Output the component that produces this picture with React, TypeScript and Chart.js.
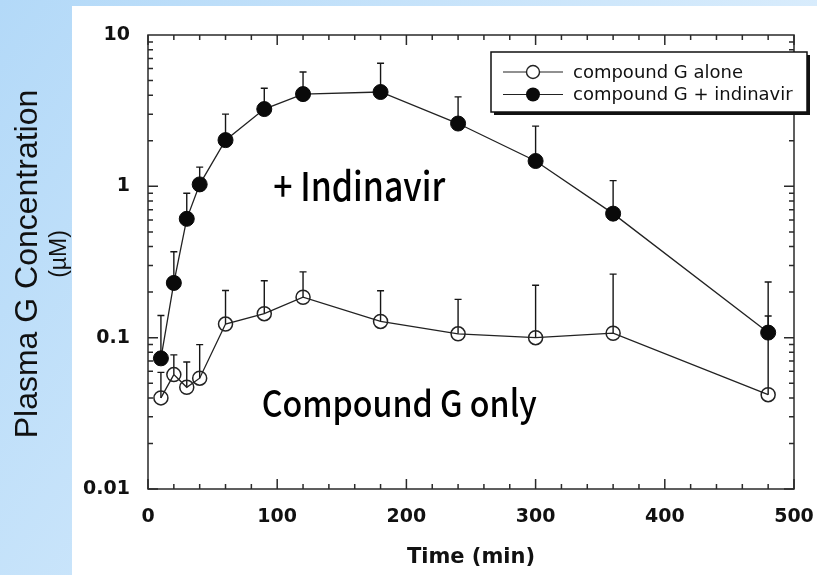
import { useEffect, useRef } from 'react';
import { Chart, registerables } from 'chart.js';

Chart.register(...registerables);

// ---- data ----
const times = [10, 20, 30, 40, 60, 90, 120, 180, 240, 300, 360, 480];
const aloneMean = [0.040, 0.057, 0.047, 0.054, 0.123, 0.144, 0.185, 0.128, 0.106, 0.100, 0.107, 0.042];
const aloneUpper = [0.059, 0.077, 0.069, 0.090, 0.205, 0.238, 0.272, 0.204, 0.179, 0.222, 0.263, 0.139];
const indinavirMean = [0.073, 0.23, 0.61, 1.03, 2.02, 3.24, 4.07, 4.2, 2.6, 1.47, 0.66, 0.108];
const indinavirUpper = [0.14, 0.37, 0.9, 1.34, 3.0, 4.45, 5.7, 6.5, 3.9, 2.5, 1.09, 0.233];
const seriesLabels = ['compound G alone', 'compound G + indinavir'];
const xTickLabels = ['0', '100', '200', '300', '400', '500'];
const yTickLabels = ['0.01', '0.1', '1', '10'];
const annotationTexts = ['+ Indinavir', 'Compound G only'];
const axisTitleX = 'Time (min)';
const axisTitleY = 'Plasma G Concentration';
const axisUnitY = '(µM)';

// ---- styling / placement ----
const W = 817;
const H = 575;
const INK = '#161616';
const upperByDataset = [aloneUpper, indinavirUpper];
const annotationStyle = [
  { x: 97, y: 0.8, size: 40, width: 172 },
  { x: 88, y: 0.0298, size: 37, width: 275 },
];

const backgroundPlugin = {
  id: 'slideBackground',
  beforeDraw(chart: any) {
    const { ctx } = chart;
    ctx.save();
    const g = ctx.createLinearGradient(0, 0, W, H);
    g.addColorStop(0, '#b3d9f8');
    g.addColorStop(1, '#eaf5fe');
    ctx.fillStyle = g;
    ctx.fillRect(0, 0, W, H);
    ctx.fillStyle = '#ffffff';
    ctx.fillRect(72, 6, W - 72, H - 6);
    // y-axis title on the slide strip
    ctx.fillStyle = '#111';
    ctx.translate(37, 264);
    ctx.rotate(-Math.PI / 2);
    ctx.textAlign = 'center';
    ctx.textBaseline = 'alphabetic';
    ctx.font = '32px "Liberation Sans", Arial, sans-serif';
    ctx.fillText(axisTitleY, 0, 0);
    ctx.font = '23px "Liberation Sans", Arial, sans-serif';
    ctx.fillText(axisUnitY, 10, 29);
    ctx.restore();
  },
};

const errorBarPlugin = {
  id: 'errorBars',
  beforeDatasetsDraw(chart: any) {
    const { ctx } = chart;
    const xs = chart.scales.x;
    const ys = chart.scales.y;
    ctx.save();
    ctx.strokeStyle = INK;
    ctx.lineWidth = 1.4;
    chart.data.datasets.forEach((ds: any, i: number) => {
      const up = upperByDataset[i];
      ds.data.forEach((p: any, j: number) => {
        const px = xs.getPixelForValue(p.x);
        const y0 = ys.getPixelForValue(p.y);
        const y1 = ys.getPixelForValue(up[j]);
        ctx.beginPath();
        ctx.moveTo(px, y0);
        ctx.lineTo(px, y1);
        ctx.moveTo(px - 3.5, y1);
        ctx.lineTo(px + 3.5, y1);
        ctx.stroke();
      });
    });
    ctx.restore();
  },
};

const framePlugin = {
  id: 'frameTicks',
  afterDatasetsDraw(chart: any) {
    const { ctx, chartArea: a } = chart;
    const xs = chart.scales.x;
    const ys = chart.scales.y;
    ctx.save();
    ctx.strokeStyle = '#2a2a2a';
    ctx.lineWidth = 1.5;
    ctx.strokeRect(a.left, a.top, a.right - a.left, a.bottom - a.top);
    ctx.beginPath();
    for (let v = 0; v <= 500; v += 20) {
      const px = xs.getPixelForValue(v);
      const len = v % 100 === 0 ? 10 : 5;
      ctx.moveTo(px, a.bottom);
      ctx.lineTo(px, a.bottom - len);
      ctx.moveTo(px, a.top);
      ctx.lineTo(px, a.top + len);
    }
    for (let d = -2; d <= 0; d++) {
      for (let k = 1; k <= 9; k++) {
        const v = k * Math.pow(10, d);
        const py = ys.getPixelForValue(v);
        const len = k === 1 ? 10 : 5;
        ctx.moveTo(a.left, py);
        ctx.lineTo(a.left + len, py);
        ctx.moveTo(a.right, py);
        ctx.lineTo(a.right - len, py);
      }
    }
    ctx.stroke();
    ctx.restore();
  },
};

const annotationPlugin = {
  id: 'annotations',
  afterDatasetsDraw(chart: any) {
    const { ctx } = chart;
    const xs = chart.scales.x;
    const ys = chart.scales.y;
    ctx.save();
    ctx.fillStyle = '#000';
    ctx.textAlign = 'left';
    ctx.textBaseline = 'alphabetic';
    annotationTexts.forEach((t, i) => {
      const s = annotationStyle[i];
      ctx.font = `500 ${s.size}px "Noto Sans CJK JP", "Noto Sans", sans-serif`;
      const m = ctx.measureText(t).width;
      ctx.save();
      ctx.translate(xs.getPixelForValue(s.x), ys.getPixelForValue(s.y));
      ctx.scale(s.width / m, 1);
      ctx.fillText(t, 0, 0);
      ctx.restore();
    });
    ctx.restore();
  },
};

const legendPlugin = {
  id: 'boxLegend',
  afterDraw(chart: any) {
    const { ctx } = chart;
    const bx = 491, by = 52, bw = 316, bh = 60;
    ctx.save();
    ctx.fillStyle = '#111';
    ctx.fillRect(bx + 3, by + 3, bw, bh);
    ctx.fillStyle = '#fff';
    ctx.fillRect(bx, by, bw, bh);
    ctx.strokeStyle = '#111';
    ctx.lineWidth = 1.5;
    ctx.strokeRect(bx, by, bw, bh);
    ctx.font = '18px "DejaVu Sans", sans-serif';
    ctx.textBaseline = 'middle';
    ctx.textAlign = 'left';
    chart.data.datasets.forEach((ds: any, i: number) => {
      const cy = by + 20 + i * 22.5;
      ctx.strokeStyle = ds.borderColor;
      ctx.lineWidth = 1.2;
      ctx.beginPath();
      ctx.moveTo(bx + 12, cy);
      ctx.lineTo(bx + 72, cy);
      ctx.stroke();
      ctx.beginPath();
      ctx.arc(bx + 42, cy, i === 0 ? 6.5 : 7, 0, Math.PI * 2);
      if (i === 1) {
        ctx.fillStyle = ds.pointBackgroundColor;
        ctx.fill();
      } else {
        ctx.fillStyle = '#fff';
        ctx.fill();
        ctx.lineWidth = 1.4;
        ctx.stroke();
      }
      ctx.fillStyle = '#111';
      ctx.fillText(ds.label, bx + 82, cy + 1);
    });
    ctx.restore();
  },
};

export default function App() {
  const ref = useRef<HTMLCanvasElement | null>(null);
  useEffect(() => {
    document.body.style.margin = '0';
    const canvas = ref.current;
    if (!canvas) return;
    const tickFont = { family: '"DejaVu Sans", sans-serif', weight: 'bold' as const, size: 19 };
    const chart = new Chart(canvas, {
      type: 'line',
      data: {
        datasets: [
          {
            label: seriesLabels[0],
            data: times.map((t, i) => ({ x: t, y: aloneMean[i] })),
            borderColor: '#222',
            borderWidth: 1.3,
            pointRadius: 7,
            pointBorderWidth: 1.5,
            pointBackgroundColor: 'rgba(255,255,255,0)',
            pointBorderColor: '#222',
            fill: false,
            tension: 0,
          },
          {
            label: seriesLabels[1],
            data: times.map((t, i) => ({ x: t, y: indinavirMean[i] })),
            borderColor: '#222',
            borderWidth: 1.3,
            pointRadius: 7.5,
            pointBorderWidth: 1,
            pointBackgroundColor: '#0a0a0a',
            pointBorderColor: '#0a0a0a',
            fill: false,
            tension: 0,
          },
        ],
      },
      options: {
        responsive: false,
        animation: false,
        layout: { padding: { top: 35, right: 23, left: 0, bottom: 0 } },
        plugins: { legend: { display: false }, tooltip: { enabled: false } },
        scales: {
          x: {
            type: 'linear',
            min: 0,
            max: 500,
            ticks: {
              stepSize: 100,
              autoSkip: false,
              maxRotation: 0,
              padding: 17,
              color: '#111',
              font: tickFont,
              callback: (v: any) => xTickLabels[Math.round(Number(v) / 100)] ?? '',
            },
            grid: { display: false, drawTicks: false },
            border: { display: false },
            title: {
              display: true,
              text: axisTitleX,
              color: '#111',
              font: { family: '"DejaVu Sans", sans-serif', weight: 'bold', size: 21 },
              padding: { top: 0, bottom: 5 },
            },
            afterFit: (s: any) => {
              s.height = 86;
              s.paddingLeft = 0;
              s.paddingRight = 0;
            },
          },
          y: {
            type: 'logarithmic',
            min: 0.01,
            max: 10,
            ticks: {
              autoSkip: false,
              padding: 18,
              color: '#111',
              font: tickFont,
              callback: (v: any) => {
                const l = Math.log10(Number(v));
                const r = Math.round(l);
                return Math.abs(l - r) < 1e-6 ? yTickLabels[r + 2] ?? '' : '';
              },
            },
            grid: { display: false, drawTicks: false },
            border: { display: false },
            afterFit: (s: any) => {
              s.width = 148;
              s.paddingTop = 0;
              s.paddingBottom = 0;
            },
          },
        },
      } as any,
      plugins: [backgroundPlugin, errorBarPlugin, framePlugin, annotationPlugin, legendPlugin],
    });
    return () => chart.destroy();
  }, []);
  return (
    <div style={{ width: W, height: H }}>
      <canvas ref={ref} width={W} height={H} style={{ display: 'block' }} />
    </div>
  );
}
